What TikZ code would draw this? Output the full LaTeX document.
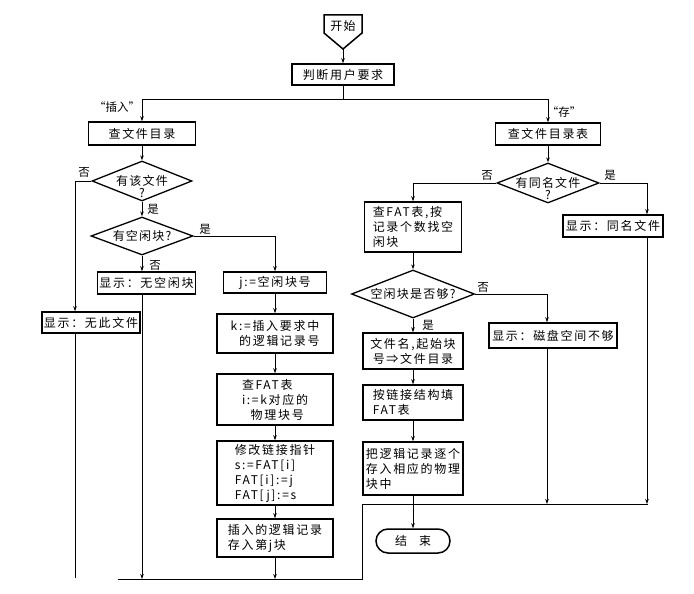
\documentclass[tikz,border=0pt]{standalone}
\usepackage{fontspec}
\setmainfont{Noto Sans CJK SC}
\usetikzlibrary{shapes.geometric,arrows.meta}
\begin{document}
\begin{tikzpicture}[x=1pt,y=-1pt]
\tikzset{
  box/.style={draw, line width=1.5pt, inner sep=2pt, font=\fontsize{12}{15}\selectfont\addfontfeatures{LetterSpace=14}, align=center},
  lbox/.style={box, align=left},
  dia/.style={draw, diamond, line width=1.3pt, inner sep=0pt},
  ln/.style={line width=0.9pt},
  arr/.style={ln, -{Stealth[length=5pt,width=3.5pt]}},
  lab/.style={font=\fontsize{11.5}{13}\selectfont, inner sep=0pt},
  dtext/.style={font=\fontsize{12}{12}\selectfont\addfontfeatures{LetterSpace=10}, inner sep=0pt, align=center},
}
\useasboundingbox (0,0) rectangle (694,594);
% start
\node[dtext] (start) at (343,26) {开始};
\draw[line width=1.5pt] (324,15) -- (362,15) -- (362,33) -- (343,49) -- (324,33) -- cycle;
\coordinate (startb) at (343,49);
\node[box, minimum width=102, minimum height=21] (judge) at (343,74.5) {判断用户要求};
\draw[arr] (startb) -- (judge);
% split
\coordinate (split) at (343,99);
\coordinate (splL) at (142,99);
\coordinate (splR) at (548,99);
\draw[ln] (judge) -- (split);
\draw[ln] (splL) -- (splR);
\node[box, minimum width=107, minimum height=23] (dirL) at (142,133.5) {查文件目录};
\node[box, minimum width=105, minimum height=22] (dirR) at (548,134) {查文件目录表};
\draw[arr] (splL) -- (dirL);
\draw[arr] (splR) -- (dirR);
\node[lab] (lins) at (117,107) {“插入”};
\node[lab] (lcun) at (564,112) {“存”};
% left column
\node[dia, minimum width=100, minimum height=40] (d1) at (142,181) {};
\node[dtext] (d1t) at (142,186) {有该文件\\?};
\draw[arr] (dirL) -- (d1);
\node[dia, minimum width=102, minimum height=38] (d2) at (142,236) {};
\node[dtext] (d2t) at (142,236) {有空闲块?};
\draw[arr] (d1.south) -- (d2.north);
\node[lab] (y1) at (153,209) {是};
\node[lab] (n1) at (84,172) {否};
\coordinate (c1) at (75,181);
\node[box, minimum width=92, minimum height=21] (nofile) at (91,322.5) {显示：无此文件};
\draw[arr] (d1.west) -- (c1) -- (c1 |- nofile.north);
\coordinate (endL) at (75,578);
\draw[ln] (c1 |- nofile.south) -- (endL);
\node[box, minimum width=97, minimum height=22] (nospace) at (146.5,283) {显示：无空闲块};
\draw[arr] (d2.south) -- (d2.south |- nospace.north);
\node[lab] (n2) at (155,265) {否};
\coordinate (m1) at (142,579);
\draw[arr] (d2 |- nospace.south) -- (m1);
% middle column
\coordinate (c2) at (275,236);
\node[lab] (y2) at (205,229) {是};
\node[box, minimum width=103, minimum height=21] (jbox) at (275,282.5) {j:=空闲块号};
\draw[arr] (d2.east) -- (c2) -- (jbox.north);
\node[box, minimum width=116, minimum height=39] (kbox) at (275,333.5) {k:=插入要求中\\\ \ 的逻辑记录号};
\node[lbox, minimum width=116, minimum height=51] (fbox) at (275,399.5) {查FAT表\\i:=k对应的\\\ \ 物理块号};
\node[lbox, minimum width=116, minimum height=64] (mbox) at (275,473) {修改链接指针\\s:=FAT[i]\\FAT[i]:=j\\FAT[j]:=s};
\node[lbox, minimum width=116, minimum height=38] (ibox) at (275,538) {插入的逻辑记录\\存入第j块};
\draw[arr] (jbox) -- (kbox);
\draw[arr] (kbox) -- (fbox);
\draw[arr] (fbox) -- (mbox);
\draw[arr] (mbox) -- (ibox);
\coordinate (m2) at (275,579);
\draw[arr] (ibox) -- (m2);
% bottom line
\coordinate (bL) at (118,579);
\coordinate (bR) at (362,579);
\coordinate (mL) at (362,504);
\draw[ln] (bL) -- (bR) -- (mL);
% right column
\node[dia, minimum width=102, minimum height=40] (d3) at (548,183) {};
\node[dtext] (d3t) at (548,188) {有同名文件\\?};
\draw[arr] (dirR) -- (d3);
\node[lab] (n3) at (487,175) {否};
\node[lab] (y3) at (610,175) {是};
\coordinate (c3) at (413,183);
\node[lbox, minimum width=97, minimum height=50] (fat2) at (413,227) {查FAT表,按\\记录个数找空\\闲块};
\draw[arr] (d3.west) -- (c3) -- (fat2.north);
\coordinate (c4) at (647,183);
\node[box, minimum width=100, minimum height=22] (same) at (613,226) {显示：同名文件};
\draw[arr] (d3.east) -- (c4) -- (c4 |- same.north);
\coordinate (m4) at (647,504);
\draw[arr] (c4 |- same.south) -- (m4);
\node[dia, minimum width=123, minimum height=48] (d4) at (413,294) {};
\node[dtext] (d4t) at (413,294) {空闲块是否够?};
\draw[arr] (fat2) -- (d4);
\node[lab] (n4) at (483,287) {否};
\coordinate (c5) at (547,294);
\node[box, minimum width=128, minimum height=25] (disk) at (553,335.5) {显示：磁盘空间不够};
\draw[arr] (d4.east) -- (c5) -- (c5 |- disk.north);
\coordinate (m5) at (547,504);
\draw[arr] (c5 |- disk.south) -- (m5);
\node[lab] (y4) at (428,325) {是};
\node[box, minimum width=100, minimum height=36] (fname) at (413,351) {文件名,起始块\\号⇒文件目录};
\node[lbox, minimum width=100, minimum height=35] (fill) at (413,402.5) {按链接结构填\\FAT表};
\node[lbox, minimum width=100, minimum height=53, inner sep=1pt] (store) at (413,468.5) {把逻辑记录逐个\\存入相应的物理\\块中};
\draw[arr] (d4.south) -- (fname.north);
\draw[arr] (fname) -- (fill);
\draw[arr] (fill) -- (store);
\coordinate (mR) at (648,504);
\coordinate (mC) at (413,504);
\draw[ln] (mL) -- (mR);
\draw[ln] (store) -- (mC);
\node[draw, line width=1.5pt, rounded corners=12pt, minimum width=74, minimum height=24, font=\fontsize{12}{14}\selectfont] (end) at (413,541) {结\quad 束};
\draw[arr] (mC) -- (end);
\end{tikzpicture}
\end{document}
